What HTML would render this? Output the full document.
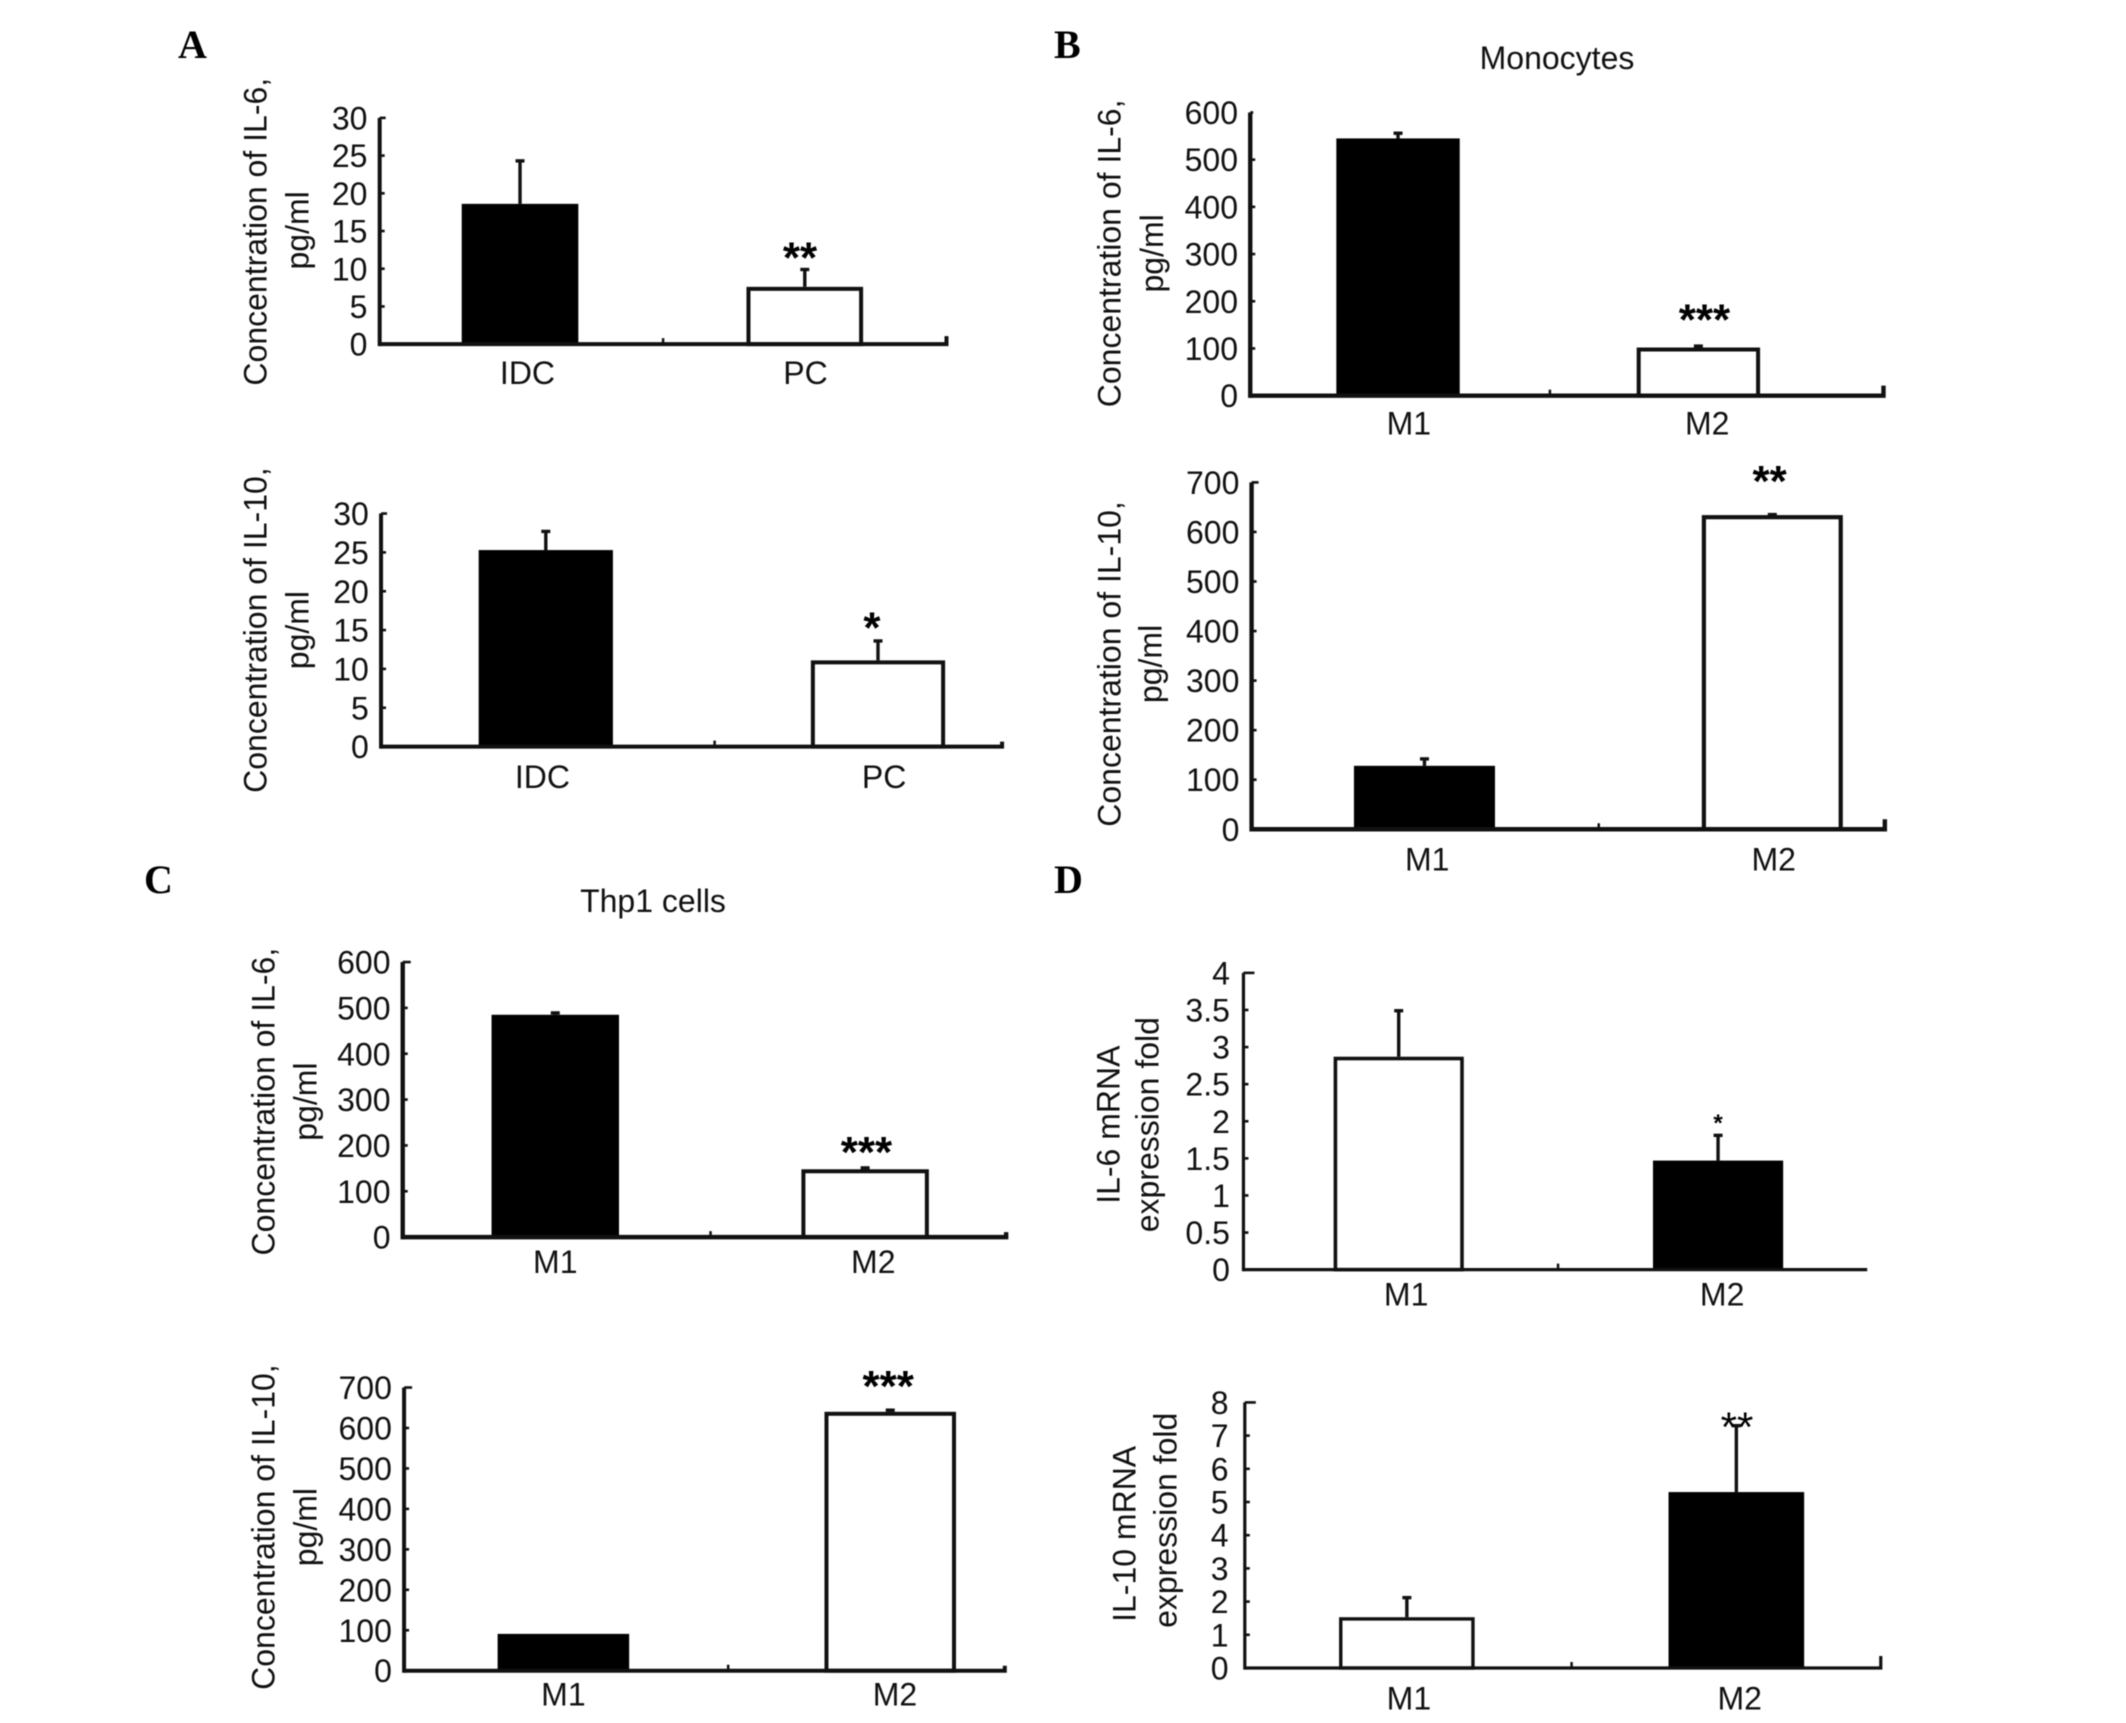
<!DOCTYPE html>
<html lang="en">
<head>
<meta charset="utf-8">
<title>IL-6 and IL-10 concentration and mRNA expression</title>
<style>
html,body{margin:0;padding:0;background:#fff;}
body{width:2126px;height:1723px;overflow:hidden;}
svg{display:block;filter:blur(0.45px);}
text{font-family:"Liberation Sans",Arial,sans-serif;fill:#111;}
.panel-letter{font-family:"Liberation Serif","Times New Roman",serif;font-weight:700;font-size:40px;fill:#000;}
.sig{font-weight:700;fill:#000;}
</style>
</head>
<body>
<svg id="figure" width="2126" height="1723" viewBox="0 0 2126 1723" xmlns="http://www.w3.org/2000/svg">
  <rect x="0" y="0" width="2126" height="1723" fill="#fff"/>
  <text class="panel-letter" x="178" y="58">A</text>
  <text class="panel-letter" x="1054" y="58">B</text>
  <text class="panel-letter" x="144" y="893">C</text>
  <text class="panel-letter" x="1054" y="893">D</text>
  <text x="1557" y="69" font-size="32" text-anchor="middle">Monocytes</text>
  <text x="653" y="912" font-size="32" text-anchor="middle">Thp1 cells</text>
</svg>
<script>
// Chart data
const a1Categories = ['IDC', 'PC'];
const a1Values = [18.6, 7.6];
const a1Errors = [5.7, 2.3];
const a1Significance = ['', '**'];
const a1TickLabels = ['0', '5', '10', '15', '20', '25', '30'];

const a2Categories = ['IDC', 'PC'];
const a2Values = [25.3, 11.1];
const a2Errors = [2.4, 2.5];
const a2Significance = ['', '*'];
const a2TickLabels = ['0', '5', '10', '15', '20', '25', '30'];

const b1Categories = ['M1', 'M2'];
const b1Values = [545, 102];
const b1Errors = [11, 3];
const b1Significance = ['', '***'];
const b1TickLabels = ['0', '100', '200', '300', '400', '500', '600'];

const b2Categories = ['M1', 'M2'];
const b2Values = [128, 634];
const b2Errors = [14, 1];
const b2Significance = ['', '**'];
const b2TickLabels = ['0', '100', '200', '300', '400', '500', '600', '700'];

const c1Categories = ['M1', 'M2'];
const c1Values = [485, 148];
const c1Errors = [4, 3];
const c1Significance = ['', '***'];
const c1TickLabels = ['0', '100', '200', '300', '400', '500', '600'];

const c2Categories = ['M1', 'M2'];
const c2Values = [91, 640];
const c2Errors = [0, 4];
const c2Significance = ['', '***'];
const c2TickLabels = ['0', '100', '200', '300', '400', '500', '600', '700'];

const d1Categories = ['M1', 'M2'];
const d1Values = [2.87, 1.47];
const d1Errors = [0.62, 0.34];
const d1Significance = ['', '*'];
const d1TickLabels = ['0', '0.5', '1', '1.5', '2', '2.5', '3', '3.5', '4'];

const d2Categories = ['M1', 'M2'];
const d2Values = [1.53, 5.3];
const d2Errors = [0.59, 2.0];
const d2Significance = ['', '**'];
const d2TickLabels = ['0', '1', '2', '3', '4', '5', '6', '7', '8'];

// Layout (unscaled units, multiplied by SX / SY)
const SX = 1.356;
const SY = 1.355;
const SVG_NS = 'http://www.w3.org/2000/svg';
const figure = document.getElementById('figure');

function add(parent, tag, attrs, text) {
  const node = document.createElementNS(SVG_NS, tag);
  for (const key in attrs) node.setAttribute(key, attrs[key]);
  if (text !== undefined) node.textContent = text;
  parent.appendChild(node);
  return node;
}

function drawChart(id, data, g) {
  const left = g.left * SX, right = g.right * SX, top = g.top * SY, base = g.base * SY;
  const maxValue = parseFloat(data.ticks[data.ticks.length - 1]);
  const yScale = v => base - (v / maxValue) * (base - top);
  const xScale = f => left + (right - left) * f;
  const barWidth = (g.barWidth + 1) * SX;
  const fontSize = g.fontSize || 32;

  const chart = add(figure, 'g', {});
  
  

  // bars, error bars, significance
  data.values.forEach((value, i) => {
    const cx = xScale(g.bands[i]);
    const white = g.fills[i] === '#fff';
    const sw = white ? g.stroke : 0;
    const yTop = yScale(value);
    const errTop = yScale(value + data.errors[i]);
    const catName = data.categories[i].toLowerCase();

    if (data.errors[i] > 0) {
      const stem = add(chart, 'line', {x1: cx, x2: cx, y1: yTop, y2: errTop, stroke: '#111', 'stroke-width': 3.4});
      
      
      const cap = add(chart, 'line', {x1: cx - 4.5, x2: cx + 4.5, y1: errTop, y2: errTop, stroke: '#111', 'stroke-width': 3.4});
      
      
    }

    const bar = add(chart, 'rect', {
      x: cx - barWidth / 2 + sw / 2,
      y: yTop + sw / 2,
      width: barWidth - sw,
      height: Math.max(0, base - yTop - sw / 2),
      fill: g.fills[i],
      stroke: white ? '#111' : 'none',
      'stroke-width': sw
    });
    
    

    if (data.significance[i]) {
      const sigSize = g.sigSize || 44;
      const sig = add(chart, 'text', {
        class: 'sig',
        x: cx + g.sigDx * SX,
        y: errTop + g.sigDy * SY + 0.44 * sigSize,
        'font-size': sigSize,
        'text-anchor': 'middle'
      }, data.significance[i]);
      
      
      if (g.sigLight) sig.style.fontWeight = '400';
    }

    const label = add(chart, 'text', {
      x: cx + g.labelDx[i] * SX,
      y: g.labelY * SY + 0.36 * fontSize,
      'font-size': fontSize,
      'text-anchor': 'middle'
    }, data.categories[i]);
    
    
  });

  // x axis
  const xAxis = add(chart, 'path', {
    d: 'M' + left + ' ' + base + 'H' + right + (g.endTick ? 'v' + (-g.endTick) : ''),
    fill: 'none', stroke: '#111', 'stroke-width': g.axis
  });
  
  

  const midTick = add(chart, 'line', {
    x1: g.mid * SX, x2: g.mid * SX, y1: base, y2: base - 6, stroke: '#111', 'stroke-width': 2.5
  });
  
  

  // y axis
  const yAxis = add(chart, 'line', {
    x1: left, x2: left, y1: top, y2: base + g.axis / 2, stroke: '#111', 'stroke-width': g.axis
  });
  
  

  data.ticks.forEach((tickLabel, i) => {
    const v = parseFloat(tickLabel);
    const y = yScale(v);
    const isTop = i === data.ticks.length - 1;
    if (i > 0) {
      const tick = add(chart, 'line', {
        x1: left, x2: left + (isTop ? g.topTick : 5), y1: y, y2: y, stroke: '#111', 'stroke-width': 2.6
      });
      
      
    }
    const text = add(chart, 'text', {
      x: left - g.tickGap * SX,
      y: y + 0.36 * fontSize,
      'font-size': fontSize,
      'text-anchor': 'end'
    }, tickLabel);
    
    
  });

  // y axis title (two rotated lines)
  g.title.forEach((line, i) => {
    const tx = g.titleX[i] * SX + 0.36 * fontSize;
    const ty = g.titleY[i] * SY;
    const title = add(chart, 'text', {
      x: tx, y: ty,
      transform: 'rotate(-90 ' + tx + ' ' + ty + ')',
      'font-size': fontSize,
      'text-anchor': 'middle'
    }, line);
    
    
  });
}

const K = '#000', W = '#fff';

drawChart('a-il6', {categories: a1Categories, values: a1Values, errors: a1Errors, significance: a1Significance, ticks: a1TickLabels},
  {left: 280, right: 698, top: 87, base: 254, mid: 489, bands: [0.2476, 0.75], barWidth: 85, fills: [K, W], stroke: 4, axis: 4, endTick: 8, topTick: 6, tickGap: 9,
   labelDx: [5.5, 0.5], labelY: 275, sigDx: -3.5, sigDy: -12, title: ['Concentration of IL-6,', 'pg/ml'], titleX: [188, 219], titleY: [171, 170]});

drawChart('a-il10', {categories: a2Categories, values: a2Values, errors: a2Errors, significance: a2Significance, ticks: a2TickLabels},
  {left: 281, right: 739, top: 379, base: 551, mid: 527, bands: [0.2653, 0.8002], barWidth: 98, fills: [K, W], stroke: 4, axis: 4, endTick: 5, topTick: 6, tickGap: 9,
   labelDx: [-2.5, 4.5], labelY: 573, sigDx: -4.5, sigDy: -13, title: ['Concentration of IL-10,', 'pg/ml'], titleX: [188, 219], titleY: [465, 465]});

drawChart('b-il6', {categories: b1Categories, values: b1Values, errors: b1Errors, significance: b1Significance, ticks: b1TickLabels},
  {left: 922, right: 1389, top: 83, base: 292, mid: 1143, bands: [0.2334, 0.7077], barWidth: 90, fills: [K, W], stroke: 4, axis: 4.4, endTick: 10, topTick: 3, tickGap: 9,
   labelDx: [8, 6.5], labelY: 312, sigDx: 4.5, sigDy: -23, title: ['Concentration of IL-6,', 'pg/ml'], titleX: [818, 849], titleY: [187, 187]});

drawChart('b-il10', {categories: b2Categories, values: b2Values, errors: b2Errors, significance: b2Significance, ticks: b2TickLabels},
  {left: 923, right: 1390, top: 356, base: 612, mid: 1179, bands: [0.273, 0.8223], barWidth: 103, fills: [K, W], stroke: 4.2, axis: 4.4, endTick: 10, topTick: 7, tickGap: 9,
   labelDx: [2, 1], labelY: 634, sigDx: -2, sigDy: -28, title: ['Concentration of IL-10,', 'pg/ml'], titleX: [818, 848], titleY: [490, 490]});

drawChart('c-il6', {categories: c1Categories, values: c1Values, errors: c1Errors, significance: c1Significance, ticks: c1TickLabels},
  {left: 297, right: 742, top: 710, base: 913, mid: 524, bands: [0.2528, 0.7663], barWidth: 93, fills: [K, W], stroke: 4, axis: 4.4, endTick: 5, topTick: 8, tickGap: 9,
   labelDx: [0, 6], labelY: 931, sigDx: 1, sigDy: -15, title: ['Concentration of IL-6,', 'pg/ml'], titleX: [194, 225], titleY: [813, 813]});

drawChart('c-il10', {categories: c2Categories, values: c2Values, errors: c2Errors, significance: c2Significance, ticks: c2TickLabels},
  {left: 298, right: 741, top: 1024, base: 1233, mid: 537, bands: [0.2652, 0.8093], barWidth: 96, fills: [K, W], stroke: 4, axis: 4, endTick: 5, topTick: 8, tickGap: 9,
   labelDx: [0, 3.5], labelY: 1250, sigDx: -1.5, sigDy: -21, title: ['Concentration of IL-10,', 'pg/ml'], titleX: [194, 225], titleY: [1127, 1127]});

drawChart('d-il6', {categories: d1Categories, values: d1Values, errors: d1Errors, significance: d1Significance, ticks: d1TickLabels},
  {left: 917, right: 1377, top: 718, base: 937, mid: 1149, bands: [0.2489, 0.7609], barWidth: 95, fills: [W, K], stroke: 3.6, axis: 3.2, endTick: 0, topTick: 11, tickGap: 10,
   labelDx: [5.5, 3], labelY: 955, sigDx: 0, sigDy: -11, sigSize: 24, title: ['IL-6 mRNA', 'expression fold'], titleX: [817, 846], titleY: [830, 830]});

drawChart('d-il10', {categories: d2Categories, values: d2Values, errors: d2Errors, significance: d2Significance, ticks: d2TickLabels},
  {left: 918, right: 1387, top: 1035, base: 1231, mid: 1159, bands: [0.2548, 0.7729], barWidth: 99, fills: [W, K], stroke: 3.4, axis: 3.2, endTick: 12, topTick: 11, tickGap: 12,
   labelDx: [1.5, 2.5], labelY: 1253, sigDx: 0.5, sigDy: -2, sigSize: 42, sigLight: true, title: ['IL-10 mRNA', 'expression fold'], titleX: [829, 859], titleY: [1132, 1122]});
</script>
</body>
</html>
